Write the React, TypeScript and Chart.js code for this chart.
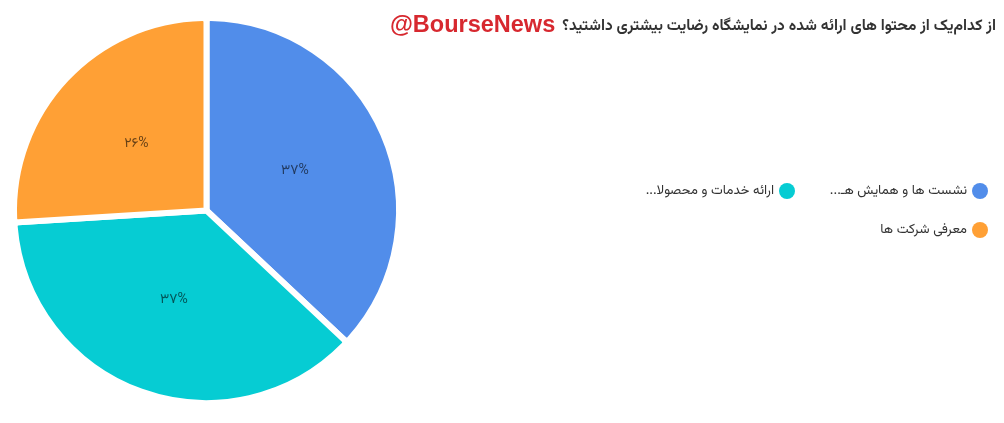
import { useEffect, useRef } from 'react';
import { Chart, registerables } from 'chart.js';

Chart.register(...registerables);

const labels = ['نشست ها و همایش هـ...', 'ارائه خدمات و محصولا...', 'معرفی شرکت ها'];
const values = [37, 37, 26];
const percentLabels = ['۳۷%', '۳۷%', '۲۶%'];
const colors = ['#518DEA', '#06CCD3', '#FFA035'];

const titleText = 'از کدام‌یک از محتوا های ارائه شده در نمایشگاه رضایت بیشتری داشتید؟';
const watermark = '@BourseNews';

const FONT = 'Vazirmatn, Tahoma, "DejaVu Sans", sans-serif';

// percent text inside each slice
const sliceLabels = {
  id: 'sliceLabels',
  afterDatasetsDraw(chart: Chart) {
    const ctx = chart.ctx;
    const meta = chart.getDatasetMeta(0);
    ctx.save();
    ctx.font = `14px ${FONT}`;
    ctx.fillStyle = 'rgba(0,0,0,0.6)';
    ctx.textAlign = 'center';
    ctx.textBaseline = 'middle';
    meta.data.forEach((arc: any, i) => {
      const { x, y, startAngle, endAngle, outerRadius } = arc.getProps(
        ['x', 'y', 'startAngle', 'endAngle', 'outerRadius'],
        true
      );
      const mid = (startAngle + endAngle) / 2;
      const r = outerRadius * 0.5;
      ctx.fillText(percentLabels[i], x + Math.cos(mid) * r, y + Math.sin(mid) * r);
    });
    ctx.restore();
  },
};

// title + right side legend, laid out rtl
const sideLegend = {
  id: 'sideLegend',
  afterDraw(chart: Chart) {
    const ctx = chart.ctx;
    ctx.save();
    ctx.direction = 'rtl';
    ctx.textBaseline = 'alphabetic';
    ctx.textAlign = 'right';
    ctx.font = `bold 15.5px ${FONT}`;
    ctx.fillStyle = '#333';
    ctx.fillText(titleText, 996, 30);
    const tw = ctx.measureText(titleText).width;
    ctx.direction = 'ltr';
    ctx.font = `bold 23.5px "Liberation Sans", Arial, sans-serif`;
    ctx.fillStyle = '#D7282F';
    ctx.fillText(watermark, 996 - tw - 7, 32);

    const spots = [
      { x: 980, y: 191 },
      { x: 787, y: 191 },
      { x: 980, y: 230 },
    ];
    ctx.direction = 'rtl';
    ctx.font = `13.4px ${FONT}`;
    labels.forEach((label, i) => {
      const p = spots[i];
      ctx.beginPath();
      ctx.arc(p.x, p.y, 8, 0, Math.PI * 2);
      ctx.fillStyle = colors[i];
      ctx.fill();
      ctx.fillStyle = '#333';
      ctx.textBaseline = 'middle';
      ctx.fillText(label, p.x - 13, p.y + 1);
    });
    ctx.restore();
  },
};

export default function App() {
  const canvasRef = useRef<HTMLCanvasElement>(null);
  const chartRef = useRef<Chart | null>(null);

  useEffect(() => {
    if (!canvasRef.current) return;
    chartRef.current?.destroy();

    chartRef.current = new Chart(canvasRef.current, {
      type: 'pie',
      data: {
        labels,
        datasets: [
          {
            data: values,
            backgroundColor: colors,
            borderColor: '#fff',
            borderWidth: 6,
            borderRadius: 4,
          },
        ],
      },
      options: {
        responsive: true,
        maintainAspectRatio: false,
        animation: false,
        layout: { padding: { left: 11, right: 602, top: 15, bottom: 17 } },
        plugins: {
          legend: { display: false },
          tooltip: { enabled: false },
        },
      },
      plugins: [sliceLabels, sideLegend],
    });

    return () => {
      chartRef.current?.destroy();
      chartRef.current = null;
    };
  }, []);

  return (
    <div style={{ position: 'fixed', left: 0, top: 0, width: 1004, height: 423, background: '#fff' }}>
      <canvas ref={canvasRef} />
    </div>
  );
}
